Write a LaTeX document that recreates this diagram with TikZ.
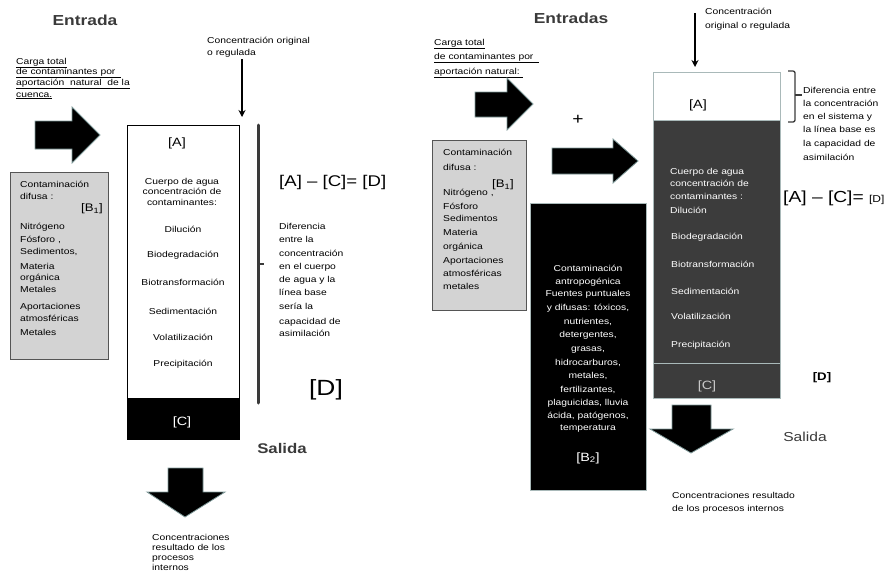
\documentclass[tikz,border=0pt]{standalone}
\usepackage{fontspec}
\setmainfont{Liberation Sans}[FakeStretch=1.2]
\usetikzlibrary{arrows.meta}
\definecolor{titlegray}{HTML}{3A3A3A}
\definecolor{edgegray}{HTML}{555555}
\definecolor{lightfill}{HTML}{D3D3D3}
\definecolor{darkbox}{HTML}{3C3C3C}
\definecolor{boxedge}{HTML}{A9B9B9}
\definecolor{arrowedge}{HTML}{7F9A9A}
\definecolor{cgray}{HTML}{C8C8C8}
\begin{document}
\begin{tikzpicture}[x=1pt,y=-1pt,
  sm/.style={font=\fontsize{8.6}{10}\selectfont, inner sep=0pt, text height=6.2pt, text depth=1.8pt, text=black},
  smw/.style={sm, text=white},
  ttl/.style={font=\fontsize{14.5}{16}\selectfont\bfseries, text=titlegray, inner sep=0pt},
  brk/.style={inner sep=0pt, font=\fontsize{12}{14}\selectfont},
  blockarrow/.style={fill=black, draw=arrowedge, line width=0.8pt},
  thinarrow/.style={line width=1.4pt, -{Stealth[length=7pt,width=7pt]}},
  panelbox/.style={anchor=north west, inner sep=0pt}
]
\useasboundingbox (0,0) rectangle (889,581);

%================ LEFT PANEL ================
\node[ttl] (entradaL) at (85,20) {Entrada};

\node[sm, anchor=west] (cgL1) at (16,62) {\underline{Carga total}};
\node[sm, anchor=west] (cgL2) at (16,72) {\underline{de contaminantes por\ \ }};
\node[sm, anchor=west] (cgL3) at (16,83) {\underline{aportación\ \ natural\ \ de la}};
\node[sm, anchor=west] (cgL4) at (16,95) {\underline{cuenca.}};

\draw[blockarrow] (35,121) -- (72,121) -- (72,107) -- (100,135) -- (72,163) -- (72,149) -- (35,149) -- cycle;

% gray box B1
\node[panelbox, draw=edgegray, fill=lightfill, line width=1.3pt, minimum width=98pt, minimum height=187pt] (b1L) at (10,172) {};
\node[sm, anchor=west] (b1Lt1) at (20,185) {Contaminación};
\node[sm, anchor=west] (b1Lt2) at (20,197) {difusa :};
\node[brk, font=\fontsize{11}{13}\selectfont] (b1Llab) at (92,209) {[B\textsubscript{1}]};
\node[sm, anchor=west] (b1Ll1) at (20,227) {Nitrógeno};
\node[sm, anchor=west] (b1Ll2) at (20,240) {Fósforo ,};
\node[sm, anchor=west] (b1Ll3) at (20,252) {Sedimentos,};
\node[sm, anchor=west] (b1Ll4) at (20,267) {Materia};
\node[sm, anchor=west] (b1Ll5) at (20,278) {orgánica};
\node[sm, anchor=west] (b1Ll6) at (20,290) {Metales};
\node[sm, anchor=west] (b1Ll7) at (20,307) {Aportaciones};
\node[sm, anchor=west] (b1Ll8) at (20,319) {atmosféricas};
\node[sm, anchor=west] (b1Ll9) at (20,333) {Metales};

% main water body box
\node[panelbox, fill=black, minimum width=112pt, minimum height=41pt] (cBoxL) at (127,398) {};
\node[panelbox, draw=black, line width=1.3pt, minimum width=112pt, minimum height=314pt] (bodyL) at (127,125) {};
\node[brk, text=white] (cL) at (182,422) {[C]};
\node[brk] (aL) at (177,143) {[A]};
\node[sm] (cuL1) at (182,182) {Cuerpo de agua};
\node[sm] (cuL2) at (182,192) {concentración de};
\node[sm] (cuL3) at (182,203) {contaminantes:};
\node[sm] (pL1) at (183,230) {Dilución};
\node[sm] (pL2) at (183,255) {Biodegradación};
\node[sm] (pL3) at (183,283) {Biotransformación};
\node[sm] (pL4) at (183,312) {Sedimentación};
\node[sm] (pL5) at (183,338) {Volatilización};
\node[sm] (pL6) at (183,364) {Precipitación};

% concentration original arrow
\node[sm, anchor=west] (coL1) at (207,41) {Concentración original};
\node[sm, anchor=west] (coL2) at (207,53) {o regulada};
\coordinate (coLa) at (242,59);
\coordinate (coLb) at (242,117);
\draw[thinarrow] (coLa) -- (coLb);

% vertical bar
\coordinate (barLt) at (258,125);
\coordinate (barLb) at (258,403);
\coordinate (barLm) at (258,264);
\coordinate (barLk) at (264,264);
\draw[line width=3pt, color=titlegray, line cap=round] (barLt) -- (barLb);
\draw[line width=1.5pt, color=titlegray] (barLm) -- (barLk);

\node[inner sep=0pt, anchor=west, font=\fontsize{15.5}{17}\selectfont] (eqL) at (279,182) {[A] – [C]= [D]};
\node[sm, anchor=west] (dL1) at (279,227) {Diferencia};
\node[sm, anchor=west] (dL2) at (279,240) {entre la};
\node[sm, anchor=west] (dL3) at (279,254) {concentración};
\node[sm, anchor=west] (dL4) at (279,267) {en el cuerpo};
\node[sm, anchor=west] (dL5) at (279,280) {de agua y la};
\node[sm, anchor=west] (dL6) at (279,293) {línea base};
\node[sm, anchor=west] (dL7) at (279,307) {sería la};
\node[sm, anchor=west] (dL8) at (279,322) {capacidad de};
\node[sm, anchor=west] (dL9) at (279,334) {asimilación};
\node[inner sep=0pt, font=\fontsize{22}{24}\selectfont] (dLbig) at (326,390) {[D]};

\node[ttl, font=\fontsize{14}{16}\selectfont\bfseries] (salidaL) at (282,448) {Salida};
\draw[blockarrow] (168,468) -- (203,468) -- (203,492) -- (225,492) -- (185,517) -- (147,492) -- (168,492) -- cycle;
\node[sm, anchor=west] (rL1) at (152,538) {Concentraciones};
\node[sm, anchor=west] (rL2) at (152,548) {resultado de los};
\node[sm, anchor=west] (rL3) at (152,558) {procesos};
\node[sm, anchor=west] (rL4) at (152,568) {internos};

%================ RIGHT PANEL ================
\node[ttl] (entradasR) at (571,18) {Entradas};
\node[sm, anchor=west] (cgR1) at (434,43) {\underline{Carga total}};
\node[sm, anchor=west] (cgR2) at (434,57) {\underline{de contaminantes por\ \ }};
\node[sm, anchor=west] (cgR3) at (434,72) {\underline{aportación natural:\ }};

\draw[blockarrow] (475,92) -- (507,92) -- (507,78) -- (533,104) -- (507,130) -- (507,117) -- (475,117) -- cycle;
\node[inner sep=0pt, font=\fontsize{16}{18}\selectfont] (plusR) at (578,120) {+};
\draw[blockarrow] (552,148) -- (613,148) -- (613,139) -- (638,161) -- (613,183) -- (613,174) -- (552,174) -- cycle;

% gray box B1 right
\node[panelbox, draw=edgegray, fill=lightfill, line width=1.3pt, minimum width=94pt, minimum height=170pt] (b1R) at (432,140) {};
\node[sm, anchor=west] (b1Rt1) at (443,153) {Contaminación};
\node[sm, anchor=west] (b1Rt2) at (443,168) {difusa :};
\node[brk, font=\fontsize{11}{13}\selectfont] (b1Rlab) at (503,185) {[B\textsubscript{1}]};
\node[sm, anchor=west] (b1Rl1) at (443,193) {Nitrógeno ,};
\node[sm, anchor=west] (b1Rl2) at (443,207) {Fósforo};
\node[sm, anchor=west] (b1Rl3) at (443,219) {Sedimentos};
\node[sm, anchor=west] (b1Rl4) at (443,233) {Materia};
\node[sm, anchor=west] (b1Rl5) at (443,247) {orgánica};
\node[sm, anchor=west] (b1Rl6) at (443,261) {Aportaciones};
\node[sm, anchor=west] (b1Rl7) at (443,274) {atmosféricas};
\node[sm, anchor=west] (b1Rl8) at (443,287) {metales};

% black box B2
\node[panelbox, draw=boxedge, fill=black, line width=1.2pt, minimum width=116pt, minimum height=287pt] (b2R) at (530,203) {};
\node[smw] (b2t1) at (588,269) {Contaminación};
\node[smw] (b2t2) at (588,282) {antropogénica};
\node[smw] (b2t3) at (588,294) {Fuentes puntuales};
\node[smw] (b2t4) at (588,308) {y difusas: tóxicos,};
\node[smw] (b2t5) at (588,322) {nutrientes,};
\node[smw] (b2t6) at (588,335) {detergentes,};
\node[smw] (b2t7) at (588,349) {grasas,};
\node[smw] (b2t8) at (588,363) {hidrocarburos,};
\node[smw] (b2t9) at (588,376) {metales,};
\node[smw] (b2t10) at (588,390) {fertilizantes,};
\node[smw] (b2t11) at (588,403) {plaguicidas, lluvia};
\node[smw] (b2t12) at (588,416) {ácida, patógenos,};
\node[smw] (b2t13) at (588,428) {temperatura};
\node[brk, text=white] (b2lab) at (588,458) {[B\textsubscript{2}]};

% main right box
\node[panelbox, draw=boxedge, fill=white, line width=1.2pt, minimum width=127pt, minimum height=48pt] (aBoxR) at (653,72) {};
\node[panelbox, draw=boxedge, fill=darkbox, line width=1.2pt, minimum width=127pt, minimum height=243pt] (bodyR) at (653,120) {};
\node[panelbox, draw=boxedge, fill=darkbox, line width=1.2pt, minimum width=127pt, minimum height=35pt] (cBoxR) at (653,363) {};
\node[brk] (aR) at (698,105) {[A]};
\node[brk, text=cgray] (cR) at (707,386) {[C]};
\node[smw, anchor=west] (cuR1) at (670,172) {Cuerpo de agua};
\node[smw, anchor=west] (cuR2) at (670,184) {concentración de};
\node[smw, anchor=west] (cuR3) at (670,197) {contaminantes :};
\node[smw, anchor=west] (cuR4) at (670,211) {Dilución};
\node[smw, anchor=west] (pR1) at (671,237) {Biodegradación};
\node[smw, anchor=west] (pR2) at (671,265) {Biotransformación};
\node[smw, anchor=west] (pR3) at (671,292) {Sedimentación};
\node[smw, anchor=west] (pR4) at (671,317) {Volatilización};
\node[smw, anchor=west] (pR5) at (671,345) {Precipitación};

% concentration original arrow right
\node[sm, anchor=west] (coR1) at (705,12) {Concentración};
\node[sm, anchor=west] (coR2) at (705,26) {original o regulada};
\coordinate (coRa) at (695,13);
\coordinate (coRb) at (695,67);
\draw[thinarrow] (coRa) -- (coRb);

% bracket
\coordinate (brA) at (788,71);
\coordinate (brB) at (795,71);
\coordinate (brC) at (795,122);
\coordinate (brD) at (788,122);
\coordinate (brM) at (795,95);
\coordinate (brN) at (802,95);
\draw[line width=1.3pt, color=titlegray, rounded corners=2pt] (brA) -- (brB) -- (brC) -- (brD);
\draw[line width=1.3pt, color=titlegray] (brM) -- (brN);

\node[sm, anchor=west] (dR1) at (803,91) {Diferencia entre};
\node[sm, anchor=west] (dR2) at (803,104) {la concentración};
\node[sm, anchor=west] (dR3) at (803,117) {en el sistema y};
\node[sm, anchor=west] (dR4) at (803,130) {la línea base es};
\node[sm, anchor=west] (dR5) at (803,144) {la capacidad de};
\node[sm, anchor=west] (dR6) at (803,158) {asimilación};

\node[inner sep=0pt, anchor=west, font=\fontsize{16}{18}\selectfont] (eqR) at (783,198) {[A] – [C]= {\fontsize{10}{12}\selectfont[D]}};
\node[inner sep=0pt, font=\fontsize{11}{13}\selectfont\bfseries] (dRlab) at (822,378) {[D]};

\draw[blockarrow] (672,405) -- (711,405) -- (711,429) -- (733,429) -- (691,453) -- (650,429) -- (672,429) -- cycle;
\node[inner sep=0pt, font=\fontsize{13}{15}\selectfont, text=titlegray] (salidaR) at (805,437) {Salida};
\node[sm, anchor=west] (rR1) at (672,496) {Concentraciones resultado};
\node[sm, anchor=west] (rR2) at (672,509) {de los procesos internos};
\end{tikzpicture}
\end{document}
